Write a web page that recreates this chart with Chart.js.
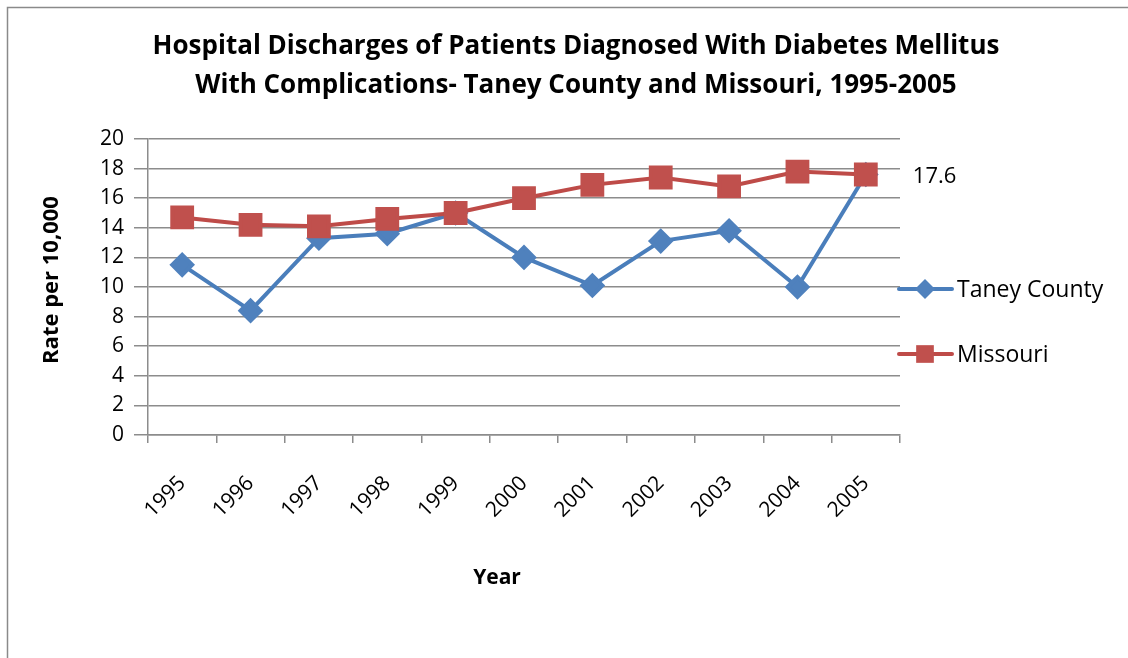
<!DOCTYPE html>
<html>
<head>
<meta charset="utf-8">
<script src="https://cdn.jsdelivr.net/npm/chart.js@4.4.0/dist/chart.umd.min.js"></script>
<style>
  html, body { margin: 0; padding: 0; background: #fff; }
  #wrap { width: 1128px; height: 658px; position: relative; }
</style>
</head>
<body>
<div id="wrap"><canvas id="chart" width="1128" height="658"></canvas></div>
<script>
// Datos
const years = ['1995', '1996', '1997', '1998', '1999', '2000', '2001', '2002', '2003', '2004', '2005'];
const taneyCounty = [11.5, 8.4, 13.3, 13.6, 15.0, 12.0, 10.1, 13.1, 13.8, 10.0, 17.6];
const missouri = [14.7, 14.2, 14.1, 14.6, 15.0, 16.0, 16.9, 17.4, 16.8, 17.8, 17.6];
const yTicks = [0, 2, 4, 6, 8, 10, 12, 14, 16, 18, 20];
const titleLines = [
  'Hospital Discharges of Patients Diagnosed With Diabetes Mellitus',
  'With Complications- Taney County and Missouri, 1995-2005'
];
const xTitle = 'Year';
const yTitle = 'Rate per 10,000';

const FONT = '"Open Sans", "Noto Sans", sans-serif';
const BLUE = '#4a7ebb';
const RED = '#be4b48';
const GRID = '#8c8c8c';

// Marco, títulos, leyenda y etiqueta del último valor
const decorPlugin = {
  id: 'decor',
  beforeDraw(chart) {
    const ctx = chart.ctx;
    ctx.save();
    ctx.fillStyle = '#fff';
    ctx.fillRect(0, 0, chart.width, chart.height);
    ctx.strokeStyle = '#8a8a8a';
    ctx.lineWidth = 1.5;
    ctx.strokeRect(7.5, 7.5, 1300, 800);
    ctx.restore();
  },
  afterDraw(chart) {
    const ctx = chart.ctx;
    ctx.save();
    // título
    ctx.fillStyle = '#000';
    ctx.font = 'bold 26px ' + FONT;
    ctx.textAlign = 'center';
    ctx.textBaseline = 'middle';
    ctx.fillText(titleLines[0], 576, 47);
    ctx.fillText(titleLines[1], 576, 86);

    // títulos de ejes
    ctx.font = 'bold 21px ' + FONT;
    ctx.fillText(xTitle, 497, 578);
    ctx.save();
    ctx.translate(52, 280);
    ctx.rotate(-Math.PI / 2);
    ctx.font = 'bold 22px ' + FONT;
    ctx.fillText(yTitle, 0, 0);
    ctx.restore();

    // etiqueta de dato 17.6
    const meta = chart.getDatasetMeta(0);
    const last = meta.data[meta.data.length - 1];
    ctx.font = '22px ' + FONT;
    ctx.textAlign = 'left';
    ctx.fillText(taneyCounty[taneyCounty.length - 1].toFixed(1), last.x + 47, chart.scales.y.getPixelForValue(18) + 8);

    // leyenda
    const legendY = [289, 354];
    const legendRadius = [10, 12.5];
    chart.data.datasets.forEach((ds, i) => {
      const y = legendY[i];
      ctx.strokeStyle = ds.borderColor;
      ctx.lineWidth = ds.borderWidth;
      ctx.lineCap = 'round';
      ctx.beginPath();
      ctx.moveTo(899, y);
      ctx.lineTo(952, y);
      ctx.stroke();
      ctx.fillStyle = ds.pointBackgroundColor;
      Chart.helpers.drawPoint(ctx, {
        pointStyle: ds.pointStyle,
        radius: legendRadius[i],
        rotation: 0,
        borderWidth: 0
      }, 925, y);
      ctx.fillStyle = '#000';
      ctx.font = '23px ' + FONT;
      ctx.textAlign = 'left';
      ctx.textBaseline = 'middle';
      ctx.fillText(ds.label, 957, y + 1);
    });
    ctx.restore();
  }
};

new Chart(document.getElementById('chart'), {
  type: 'line',
  data: {
    labels: years,
    datasets: [
      {
        label: 'Taney County',
        data: taneyCounty,
        borderColor: BLUE,
        backgroundColor: '#4f81bd',
        pointBackgroundColor: '#4f81bd',
        pointBorderColor: '#4f81bd',
        borderWidth: 4,
        pointStyle: 'rectRot',
        pointRadius: 10,
        pointHoverRadius: 10,
        tension: 0,
        order: 2
      },
      {
        label: 'Missouri',
        data: missouri,
        borderColor: RED,
        backgroundColor: '#c0504d',
        pointBackgroundColor: '#c0504d',
        pointBorderColor: '#c0504d',
        borderWidth: 4,
        pointStyle: 'rect',
        pointRadius: 14,
        pointHoverRadius: 14,
        tension: 0,
        order: 1
      }
    ]
  },
  options: {
    responsive: false,
    animation: false,
    layout: { padding: { left: 0, right: 228, top: 139, bottom: 0 } },
    plugins: {
      legend: { display: false },
      title: { display: false },
      tooltip: { enabled: false }
    },
    scales: {
      x: {
        offset: true,
        grid: { offset: true, display: true, drawOnChartArea: false, color: GRID, lineWidth: 1.5, tickLength: 8 },
        border: { color: GRID, width: 1.5 },
        ticks: {
          color: '#000',
          font: { family: FONT, size: 21 },
          minRotation: 45,
          maxRotation: 45,
          padding: 28
        },
        afterFit(scale) { scale.height = 223; }
      },
      y: {
        min: 0,
        max: 20,
        afterBuildTicks(scale) { scale.ticks = yTicks.map(v => ({ value: v })); },
        grid: { color: GRID, lineWidth: 1.5, tickLength: 14 },
        border: { color: GRID, width: 1.5 },
        ticks: {
          color: '#000',
          font: { family: FONT, size: 21 },
          padding: 10
        },
        afterFit(scale) { scale.width = 148; }
      }
    }
  },
  plugins: [decorPlugin]
});
</script>
</body>
</html>
